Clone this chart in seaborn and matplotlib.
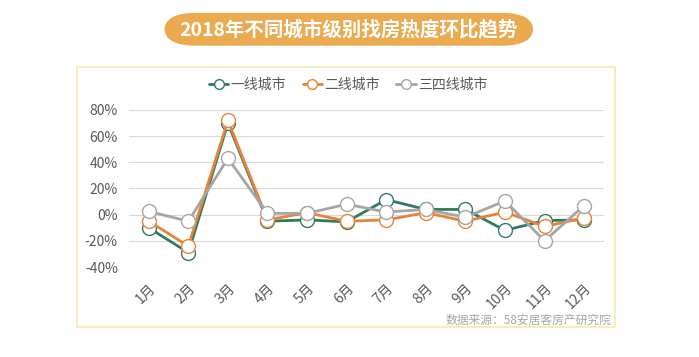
import matplotlib
matplotlib.use("Agg")
import matplotlib.pyplot as plt
from matplotlib.patches import FancyBboxPatch, Rectangle
from matplotlib.ticker import FuncFormatter
import pandas as pd
import seaborn as sns

months = ["1月", "2月", "3月", "4月", "5月", "6月", "7月", "8月", "9月", "10月", "11月", "12月"]
tier1 = [-10, -29, 70, -5, -4, -5.5, 11.5, 4, 4, -12, -4.5, -4]
tier2 = [-5, -24, 72, -4, 1.5, -5, -4, 1.5, -5, 2, -9, -2.5]
tier34 = [2.5, -5, 43, 1, 1, 8, 2, 4, -2, 10.5, -20, 7]
series_names = ["一线城市", "二线城市", "三四线城市"]
colors = ["#2F7C5A", "#E8833A", "#A5A5A5"]

sns.set_theme(style="white")
plt.rcParams["font.family"] = ["Noto Sans CJK SC", "DejaVu Sans"]

df = pd.DataFrame({"month": months * 3,
                   "value": tier1 + tier2 + tier34,
                   "tier": [n for n in series_names for _ in months]})
df["x"] = list(range(len(months))) * 3

fig = plt.figure(figsize=(6.99, 3.57), dpi=100)
fig.patch.set_facecolor("white")

# outer frame
fig.patches.append(Rectangle((0.110, 0.084), 0.770, 0.728, transform=fig.transFigure,
                             fill=False, edgecolor="#F6E7A9", linewidth=1.2))

# title pill
fig.patches.append(FancyBboxPatch((0.235, 0.872), 0.528, 0.092, transform=fig.transFigure,
                                  boxstyle="round,pad=0,rounding_size=0.045",
                                  facecolor="#EBAA50", edgecolor="none",
                                  mutation_aspect=357 / 699 * 2.2))
fig.text(0.498, 0.917, "2018年不同城市级别找房热度环比趋势", ha="center", va="center",
         color="white", fontsize=14, fontweight="bold")

ax = fig.add_axes([0.1845, 0.252, 0.6795, 0.440])
for name, col in zip(series_names, colors):
    sub = df[df["tier"] == name]
    sns.lineplot(data=sub, x="x", y="value", ax=ax, color=col, linewidth=2,
                 marker="o", markersize=10, markerfacecolor="white",
                 markeredgecolor=col, markeredgewidth=1, label=name, clip_on=False)

ax.set_xlim(-0.5, len(months) - 0.5)
ax.set_ylim(-40, 80)
ax.set_yticks([-40, -20, 0, 20, 40, 60, 80])
ax.yaxis.set_major_formatter(FuncFormatter(lambda v, p: f"{v:.0f}%"))
ax.set_xticks(range(len(months)))
ax.set_xticklabels(months, rotation=45, ha="right", va="top", rotation_mode="anchor")
ax.tick_params(axis="x", colors="#595959", labelsize=10, length=0, pad=10)
ax.tick_params(axis="y", colors="#595959", labelsize=10, length=0, pad=8)
ax.set_xlabel("")
ax.set_ylabel("")
ax.grid(axis="y", color="#D9D9D9", linewidth=0.8)
ax.set_axisbelow(True)
for s in ax.spines.values():
    s.set_visible(False)

leg = ax.legend(loc="center", bbox_to_anchor=(0.498, 0.762), bbox_transform=fig.transFigure,
                ncol=3, frameon=False, fontsize=10, handlelength=1.4, columnspacing=1.2,
                handletextpad=0.15, markerscale=0.7)
for t in leg.get_texts():
    t.set_color("#595959")

fig.text(0.875, 0.103, "数据来源：58安居客房产研究院", ha="right", va="center",
         color="#A6A6A6", fontsize=8.5)

fig.savefig("out.png", dpi=100)
